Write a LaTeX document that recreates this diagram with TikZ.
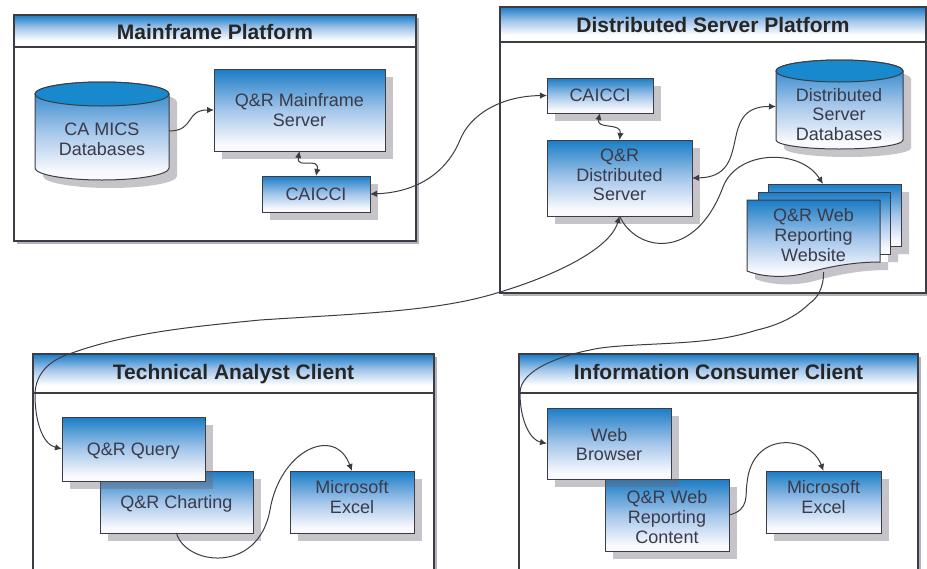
\documentclass[tikz,border=0pt]{standalone}
\usepackage{fontspec}
\setmainfont{Liberation Sans}
\usetikzlibrary{shadows,arrows.meta,calc}
\definecolor{qblue}{HTML}{1A7CC6}
\definecolor{qmid}{HTML}{A4C6EA}
\definecolor{qpale}{HTML}{FAFAFE}
\definecolor{shadowc}{HTML}{6A6670}
\definecolor{solidshadow}{HTML}{C6C4CA}
\definecolor{edgec}{HTML}{3C3C44}
\definecolor{textc}{HTML}{3A3A48}
\pgfdeclareverticalshading{qbody}{100bp}{color(0bp)=(qpale);color(29bp)=(qpale);color(50bp)=(qmid);color(75bp)=(qblue);color(100bp)=(qblue)}
\pgfdeclareverticalshading{qtitle}{100bp}{color(0bp)=(white);color(35bp)=(white);color(55bp)=(qmid);color(75bp)=(qblue);color(100bp)=(qblue)}
\tikzset{
  x=1pt,y=-1pt,
  boxnode/.style={draw=edgec,line width=1pt,shading=qbody,inner sep=0pt,outer sep=0pt,
    general shadow={shadow xshift=8pt,shadow yshift=-8pt,fill=shadowc,opacity=.38}},
  framenode/.style={draw=edgec,line width=1.5pt,fill=white,inner sep=0pt,outer sep=0pt,
    general shadow={shadow xshift=2.5pt,shadow yshift=-2.5pt,fill=shadowc,opacity=.5}},
  titlenode/.style={draw=edgec,line width=1.5pt,shading=qtitle,inner sep=0pt,outer sep=0pt,
    text depth=4pt,
    font=\bfseries\fontsize{21}{23}\selectfont,text=black!85},
  txt/.style={align=center,font=\fontsize{18}{19.7}\selectfont,text=textc,inner sep=0pt},
  plain/.style={inner sep=0pt,outer sep=0pt},
  link/.style={draw=edgec,line width=1pt,-{Latex[length=7pt,width=6.5pt]}},
  linkboth/.style={draw=edgec,line width=1pt,{Latex[length=7pt,width=6.5pt]}-{Latex[length=7pt,width=6.5pt]}},
  cylbody/.style={draw=edgec,line width=1pt,shading=qbody},
  cyltop/.style={draw=edgec,line width=1pt,fill=qblue!90!cyan},
  pagenode/.style={draw=edgec,line width=1pt,shading=qbody},
}
\newcommand{\shbox}[7][0]{%
  \node[boxnode,minimum width={(#5-#3)*1pt},minimum height={(#6-#4)*1pt}] (#2) at ({(#3+#5)/2},{(#4+#6)/2}) {};
  \node[txt] (#2-t) at ([yshift=#1pt]#2.center) {#7};
}
\newcommand{\platform}[7]{%
  \node[framenode,minimum width={(#4-#2)*1pt},minimum height={(#5-#3)*1pt}] (#1) at ({(#2+#4)/2},{(#3+#5)/2}) {};
  \node[titlenode,text height=#7pt,minimum width={(#4-#2)*1pt},minimum height={(#6-#3)*1pt}] (#1-title) at ({(#2+#4)/2},{(#3+#6)/2})
}
\newcommand{\cyl}[6]{%
  \begin{scope}[shift={(8,8)}]
    \fill[shadowc,opacity=.38] (#1,#2) arc[start angle=180,end angle=0,x radius={(#3-#1)/2*1pt},y radius=#5pt]
      -- (#3,#4) arc[start angle=360,end angle=180,x radius={(#3-#1)/2*1pt},y radius=#6pt] -- cycle;
  \end{scope}
  \path[cylbody] (#1,#2) arc[start angle=180,end angle=0,x radius={(#3-#1)/2*1pt},y radius=#5pt]
      -- (#3,#4) arc[start angle=360,end angle=180,x radius={(#3-#1)/2*1pt},y radius=#6pt] -- cycle;
  \draw[cyltop] ({(#1+#3)/2},#2) ellipse[x radius={(#3-#1)/2*1pt},y radius=#5pt];
}
\begin{document}
\begin{tikzpicture}
\useasboundingbox (0,0) rectangle (927,568);
\fill[white] (0,0) rectangle (927,568);
\clip (0,0) rectangle (927,568);

% Platforms
\platform{mainframe}{14}{15}{416}{241}{47}{21} {Mainframe Platform};
\platform{distributed}{500}{7}{926}{293}{42}{19} {Distributed Server Platform};
\platform{technical}{33}{354}{434}{590}{393}{15} {Technical Analyst Client};
\platform{information}{519}{354}{918}{590}{393}{15} {Information Consumer Client};

% Mainframe platform
\cyl{35}{94}{169}{168}{12}{12}
\node[plain,minimum width=134pt,minimum height=98pt] (mics) at (102,131) {};
\node[txt] (mics-t) at (102,139) {CA MICS\\Databases};
\shbox{qmain}{214}{69}{385}{151}{Q\&R Mainframe\\Server}
\shbox{caicci}{262}{176}{370}{212}{CAICCI}

% Distributed platform
\shbox{caicciB}{547}{78}{653}{113}{CAICCI}
\shbox[3]{qdist}{547}{140}{692}{216}{Q\&R\\Distributed\\Server}
\cyl{776}{71}{903}{140}{11}{9}
\node[plain,minimum width=127pt,minimum height=91pt] (distdb) at (839.5,106.5) {};
\node[txt] (distdb-t) at (839,114.5) {Distributed\\Server\\Databases};

% Website document stack
\fill[solidshadow] (776,192) rectangle (909,254)
  (766,200) rectangle (898,262)
  (755,208) -- (888,208) -- (888,270) .. controls (858,270) and (833,276) .. (818,280) .. controls (798,286) and (773,286) .. (755,279) -- cycle;
\node[draw=edgec,line width=1pt,shading=qbody,inner sep=0pt,outer sep=0pt,minimum width=133pt,minimum height=62pt] (webback) at (834.5,215) {};
\node[draw=edgec,line width=1pt,shading=qbody,inner sep=0pt,outer sep=0pt,minimum width=132pt,minimum height=62pt] (webmid) at (824,223) {};
\path[pagenode] (747,200) -- (880,200) -- (880,262) .. controls (850,262) and (825,268) .. (810,272) .. controls (790,278) and (765,278) .. (747,271) -- cycle;
\node[plain,minimum width=133pt,minimum height=72pt] (webfront) at (813.5,236) {};
\node[txt] (webfront-t) at (813.5,235) {Q\&R Web\\Reporting\\Website};

% Technical client
\shbox[-2]{charting}{100}{471}{253}{533}{Q\&R Charting}
\shbox[-2]{query}{62}{417}{205}{481}{Q\&R Query}
\shbox[5]{excelA}{290}{471}{414}{533}{Microsoft\\Excel}

% Information client
\shbox[-2]{content}{605}{479}{729}{551}{Q\&R Web\\Reporting\\Content}
\shbox[-1]{browser}{547}{408}{671}{479}{Web\\Browser}
\shbox[5]{excelB}{766}{471}{881}{533}{Microsoft\\Excel}

% Connectors
\draw[link] (mics.east) .. controls (195,131) and (185,110) .. (qmain.west);
\draw[linkboth] (qmain.south) .. controls (296,170) and (320,156) .. (caicci.north);
\draw[linkboth] (caicci.east) .. controls (425,192) and (450,165) .. (460,140) .. controls (470,115) and (500,96) .. (caicciB.west);
\draw[linkboth] (caicciB.south) .. controls (596,130) and (622,122) .. (qdist.north);
\draw[linkboth] (qdist.east) .. controls (755,177) and (715,106) .. (distdb.west);
\draw[link] (qdist.south) .. controls (636,252) and (695,262) .. (723,187) .. controls (737,150) and (800,148) .. ([xshift=-11.5pt]webback.north);
\draw[linkboth] (query.west) .. controls (42,444) and (35,420) .. (35,395) .. controls (35,370) and (55,358) .. (72,353) .. controls (130,332) and (200,326) .. (260,320) .. controls (350,314) and (430,312) .. (490,295) .. controls (550,278) and (610,250) .. (qdist.south);
\draw[link] ([xshift=10pt]webfront.south) .. controls (824,290) and (815,300) .. (810,303) .. controls (795,318) and (775,326) .. (757,330) .. controls (735,337) and (715,340) .. (690,342) .. controls (650,345) and (610,345) .. (590,350) .. controls (560,356) and (520,370) .. (520,393) .. controls (520,420) and (530,440) .. (browser.west);
\draw[link] (charting.south) .. controls (185,565) and (258,575) .. (270,510) .. controls (280,450) and (335,425) .. (excelA.north);
\draw[link] (content.east) .. controls (750,510) and (745,495) .. (747,483) .. controls (752,430) and (810,435) .. (excelB.north);
\end{tikzpicture}
\end{document}
